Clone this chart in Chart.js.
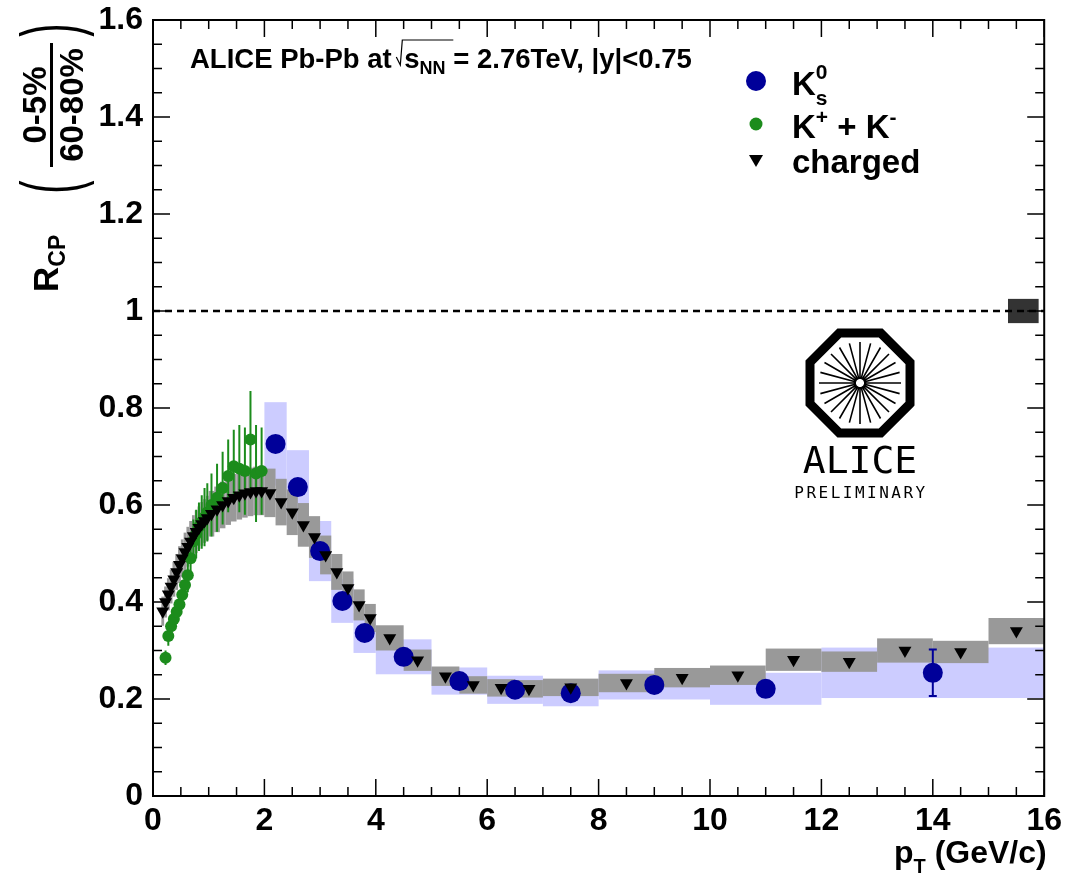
<!DOCTYPE html>
<html>
<head>
<meta charset="utf-8">
<title>ALICE Pb-Pb RCP kaons</title>
<script src="https://cdn.jsdelivr.net/npm/chart.js@4/dist/chart.umd.min.js"></script>
<style>
	html, body { margin: 0; padding: 0; background: #fff; }
	#rcpChart { display: block; }
</style>
</head>
<body>
<canvas id="rcpChart" width="1068" height="879"></canvas>
<script>
// K0s (blue circles)
var k0sPt   = [2.2, 2.6, 3.0, 3.4, 3.8, 4.5, 5.5, 6.5, 7.5, 9.0, 11.0, 14.0];
var k0sR    = [0.726, 0.637, 0.505, 0.402, 0.336, 0.287, 0.237, 0.219, 0.212, 0.229, 0.221, 0.254];
var k0sStat = [0.008, 0.008, 0.008, 0.008, 0.008, 0.008, 0.008, 0.008, 0.008, 0.01, 0.014, 0.048];
var k0sSys  = [0.086, 0.076, 0.062, 0.045, 0.041, 0.036, 0.028, 0.029, 0.027, 0.03, 0.033, 0.052];
var k0sLo   = [2.0, 2.4, 2.8, 3.2, 3.6, 4.0, 5.0, 6.0, 7.0, 8.0, 10.0, 12.0];
var k0sHi   = [2.4, 2.8, 3.2, 3.6, 4.0, 5.0, 6.0, 7.0, 8.0, 10.0, 12.0, 16.0];

// K+ + K- (green circles)
var kchPt   = [0.225, 0.275, 0.325, 0.375, 0.425, 0.475, 0.525, 0.575, 0.625, 0.675, 0.725, 0.775, 0.825,
               0.875, 0.925, 0.975, 1.05, 1.15, 1.25, 1.35, 1.45, 1.55, 1.65, 1.75, 1.85, 1.95];
var kchR    = [0.285, 0.33, 0.35, 0.365, 0.38, 0.395, 0.415, 0.435, 0.455, 0.49, 0.525, 0.54, 0.555,
               0.565, 0.575, 0.585, 0.6, 0.615, 0.635, 0.66, 0.68, 0.675, 0.67, 0.735, 0.665, 0.67];
var kchStat = [0.015, 0.02, 0.02, 0.02, 0.025, 0.025, 0.03, 0.03, 0.035, 0.04, 0.045, 0.05, 0.05,
               0.055, 0.06, 0.06, 0.065, 0.07, 0.075, 0.075, 0.075, 0.09, 0.09, 0.1, 0.1, 0.09];

// charged hadrons (black triangles)
var chPt  = [0.175, 0.225, 0.275, 0.325, 0.375, 0.425, 0.475, 0.525, 0.575, 0.625, 0.675, 0.725, 0.775,
             0.825, 0.875, 0.925, 0.975, 1.05, 1.15, 1.25, 1.35, 1.45, 1.55, 1.65, 1.75, 1.85, 1.95,
             2.1, 2.3, 2.5, 2.7, 2.9, 3.1, 3.3, 3.5, 3.7, 3.9, 4.25, 4.75, 5.25, 5.75, 6.25, 6.75,
             7.5, 8.5, 9.5, 10.5, 11.5, 12.5, 13.5, 14.5, 15.5];
var chR   = [0.381, 0.4, 0.416, 0.432, 0.447, 0.462, 0.477, 0.49, 0.503, 0.514, 0.525, 0.536, 0.545,
             0.553, 0.561, 0.567, 0.573, 0.582, 0.591, 0.6, 0.608, 0.615, 0.62, 0.624, 0.627, 0.629, 0.629,
             0.625, 0.606, 0.585, 0.559, 0.534, 0.497, 0.462, 0.429, 0.394, 0.367, 0.326, 0.28, 0.247, 0.229, 0.223, 0.221,
             0.224, 0.233, 0.244, 0.249, 0.281, 0.277, 0.3, 0.297, 0.34];
var chSys = [0.03, 0.032, 0.033, 0.035, 0.036, 0.037, 0.038, 0.039, 0.04, 0.041, 0.042, 0.043, 0.044,
             0.044, 0.045, 0.045, 0.046, 0.047, 0.047, 0.048, 0.049, 0.049, 0.05, 0.05, 0.05, 0.05, 0.05,
             0.05, 0.048, 0.047, 0.045, 0.043, 0.04, 0.037, 0.034, 0.032, 0.029, 0.026, 0.022, 0.02, 0.018, 0.018, 0.018,
             0.018, 0.019, 0.02, 0.02, 0.023, 0.021, 0.025, 0.023, 0.027];
// bin edges of the charged spectrum (n+1 values)
var chEdges = [0.15, 0.2, 0.25, 0.3, 0.35, 0.4, 0.45, 0.5, 0.55, 0.6, 0.65, 0.7, 0.75, 0.8, 0.85, 0.9, 0.95, 1.0,
               1.1, 1.2, 1.3, 1.4, 1.5, 1.6, 1.7, 1.8, 1.9, 2.0,
               2.2, 2.4, 2.6, 2.8, 3.0, 3.2, 3.4, 3.6, 3.8, 4.0, 4.5, 5.0, 5.5, 6.0, 6.5, 7.0,
               8, 9, 10, 11, 12, 13, 14, 15, 16];

// normalisation uncertainty box at unity
var normBox = { lo: 15.35, hi: 15.9, y: 1.0, err: 0.025 };

// axes
var xTicks = [0, 2, 4, 6, 8, 10, 12, 14, 16];
var yTicks = [0, 0.2, 0.4, 0.6, 0.8, 1, 1.2, 1.4, 1.6];

var FONT = '"Liberation Sans", Arial, Helvetica, sans-serif';
var BLUE = '#000099', GREEN = '#1c8c1c';

var RCP = (function() {

	function _points(xs, ys) {
		var out = [];
		for (var i = 0; i < xs.length; i++) { out.push({ x: xs[i], y: ys[i] }); }
		return out;
	}

	// systematic boxes + statistical bars, below the markers
	var boxesPlugin = {
		id: 'rcpBoxes',
		beforeDatasetsDraw: function(chart) {
			var ctx = chart.ctx, xs = chart.scales.x, ys = chart.scales.y, a = chart.chartArea;
			var i, x0, x1, y0, y1;
			ctx.save();
			ctx.beginPath();
			ctx.rect(a.left, a.top, a.right - a.left, a.bottom - a.top);
			ctx.clip();
			// K0s systematics
			ctx.fillStyle = '#ccccff';
			for (i = 0; i < k0sPt.length; i++) {
				x0 = xs.getPixelForValue(k0sLo[i]); x1 = xs.getPixelForValue(k0sHi[i]);
				y0 = ys.getPixelForValue(k0sR[i] + k0sSys[i]); y1 = ys.getPixelForValue(k0sR[i] - k0sSys[i]);
				ctx.fillRect(x0, y0, x1 - x0, y1 - y0);
			}
			// charged systematics
			ctx.fillStyle = '#999999';
			for (i = 0; i < chPt.length; i++) {
				x0 = xs.getPixelForValue(chEdges[i]); x1 = xs.getPixelForValue(chEdges[i + 1]);
				y0 = ys.getPixelForValue(chR[i] + chSys[i]); y1 = ys.getPixelForValue(chR[i] - chSys[i]);
				ctx.fillRect(x0, y0, x1 - x0, y1 - y0);
			}
			// normalisation
			ctx.fillStyle = '#333333';
			x0 = xs.getPixelForValue(normBox.lo); x1 = xs.getPixelForValue(normBox.hi);
			y0 = ys.getPixelForValue(normBox.y + normBox.err); y1 = ys.getPixelForValue(normBox.y - normBox.err);
			ctx.fillRect(x0, y0, x1 - x0, y1 - y0);
			// K+- stat bars
			ctx.strokeStyle = GREEN;
			ctx.lineWidth = 2;
			ctx.beginPath();
			for (i = 0; i < kchPt.length; i++) {
				x0 = xs.getPixelForValue(kchPt[i]);
				ctx.moveTo(x0, ys.getPixelForValue(kchR[i] + kchStat[i]));
				ctx.lineTo(x0, ys.getPixelForValue(kchR[i] - kchStat[i]));
			}
			ctx.stroke();
			// K0s stat bars with small caps
			ctx.strokeStyle = BLUE;
			ctx.beginPath();
			for (i = 0; i < k0sPt.length; i++) {
				x0 = xs.getPixelForValue(k0sPt[i]);
				y0 = ys.getPixelForValue(k0sR[i] + k0sStat[i]); y1 = ys.getPixelForValue(k0sR[i] - k0sStat[i]);
				ctx.moveTo(x0, y0); ctx.lineTo(x0, y1);
				ctx.moveTo(x0 - 4, y0); ctx.lineTo(x0 + 4, y0);
				ctx.moveTo(x0 - 4, y1); ctx.lineTo(x0 + 4, y1);
			}
			ctx.stroke();
			ctx.restore();
		}
	};

	// text helper: parts with size / vertical shift, "back" restarts at previous part's x
	function _rich(ctx, x, y, parts) {
		var cx = x, lastStart = x, maxX = x;
		for (var i = 0; i < parts.length; i++) {
			var p = parts[i];
			ctx.font = (p.weight || 'bold') + ' ' + p.size + 'px ' + (p.family || FONT);
			if (p.back) { cx = lastStart; }
			lastStart = cx;
			ctx.fillText(p.text, cx, y + (p.dy || 0));
			cx += ctx.measureText(p.text).width;
			if (p.back) { cx = Math.max(cx, maxX); }
			maxX = Math.max(maxX, cx);
		}
		return cx;
	}

	// ROOT style frame with inward ticks, titles, legend, logo
	var decorPlugin = {
		id: 'rcpDecor',
		afterDraw: function(chart) {
			var ctx = chart.ctx, xs = chart.scales.x, ys = chart.scales.y, a = chart.chartArea;
			var i, v, p, len;
			ctx.save();
			ctx.strokeStyle = '#000';
			ctx.lineWidth = 2;
			ctx.strokeRect(a.left, a.top, a.right - a.left, a.bottom - a.top);
			ctx.lineWidth = 1.5;
			ctx.beginPath();
			for (i = 0; i <= 32; i++) {
				v = i * 0.5; p = xs.getPixelForValue(v); len = (i % 4 === 0) ? 17 : 9;
				ctx.moveTo(p, a.bottom); ctx.lineTo(p, a.bottom - len);
				ctx.moveTo(p, a.top); ctx.lineTo(p, a.top + len);
			}
			for (i = 0; i <= 32; i++) {
				v = i * 0.05; p = ys.getPixelForValue(v); len = (i % 4 === 0) ? 17 : 9;
				ctx.moveTo(a.left, p); ctx.lineTo(a.left + len, p);
				ctx.moveTo(a.right, p); ctx.lineTo(a.right - len, p);
			}
			ctx.stroke();

			ctx.fillStyle = '#000';
			ctx.textBaseline = 'alphabetic';
			ctx.textAlign = 'left';

			// header
			var hx = _rich(ctx, 190, 68, [{ text: 'ALICE Pb-Pb at ', size: 27.5 }]);
			ctx.lineWidth = 1.2;
			ctx.beginPath();
			ctx.moveTo(hx - 3, 57); ctx.lineTo(hx + 1, 65); ctx.lineTo(hx + 3, 40); ctx.lineTo(hx + 54, 40);
			ctx.stroke();
			_rich(ctx, hx + 5, 68, [
				{ text: 's', size: 27.5 },
				{ text: 'NN', size: 18, dy: 6 },
				{ text: ' = 2.76TeV, |y|<0.75', size: 27.5 }
			]);

			// legend
			ctx.fillStyle = BLUE;
			ctx.beginPath(); ctx.arc(756, 81, 10, 0, Math.PI * 2); ctx.fill();
			ctx.fillStyle = GREEN;
			ctx.beginPath(); ctx.arc(756, 124, 6.5, 0, Math.PI * 2); ctx.fill();
			ctx.fillStyle = '#000';
			ctx.beginPath(); ctx.moveTo(749, 155); ctx.lineTo(763, 155); ctx.lineTo(756, 167); ctx.closePath(); ctx.fill();
			_rich(ctx, 792, 95, [
				{ text: 'K', size: 33 },
				{ text: 's', size: 21, dy: 10 },
				{ text: '0', size: 21, dy: -16, back: true }
			]);
			_rich(ctx, 792, 138, [
				{ text: 'K', size: 33 },
				{ text: '+', size: 21, dy: -14 },
				{ text: ' + K', size: 33 },
				{ text: '-', size: 21, dy: -14 }
			]);
			_rich(ctx, 792, 173, [{ text: 'charged', size: 33 }]);

			// x title
			_rich(ctx, 894, 863, [
				{ text: 'p', size: 32 },
				{ text: 'T', size: 20, dy: 10 },
				{ text: ' (GeV/c)', size: 32 }
			]);

			// y title, rotated (u = -screenY, v = screenX)
			ctx.save();
			ctx.rotate(-Math.PI / 2);
			_rich(ctx, -292, 58, [
				{ text: 'R', size: 35 },
				{ text: 'CP', size: 23, dy: 7 }
			]);
			ctx.textAlign = 'center';
			ctx.font = 'bold 33px ' + FONT;
			ctx.fillText('0-5%', -105, 46);
			ctx.fillText('60-80%', -105, 83);
			ctx.fillRect(-167, 50, 124, 3);
			ctx.save();
			ctx.scale(0.5, 1);
			ctx.font = '80px ' + FONT;
			ctx.fillText('(', -187 / 0.5, 77);
			ctx.fillText(')', -30 / 0.5, 77);
			ctx.restore();
			ctx.restore();

			// ALICE preliminary logo
			_logo(ctx, 860, 383);
			ctx.restore();
		}
	};

	function _logo(ctx, cx, cy) {
		var i, ang, r = 50;
		ctx.save();
		ctx.strokeStyle = '#000';
		ctx.lineWidth = 9;
		ctx.lineJoin = 'miter';
		ctx.beginPath();
		for (i = 0; i < 8; i++) {
			ang = Math.PI / 8 + i * Math.PI / 4;
			var px = cx + r / Math.cos(Math.PI / 8) * Math.cos(ang);
			var py = cy + r / Math.cos(Math.PI / 8) * Math.sin(ang);
			if (i === 0) { ctx.moveTo(px, py); } else { ctx.lineTo(px, py); }
		}
		ctx.closePath();
		ctx.stroke();
		ctx.lineWidth = 1.6;
		ctx.beginPath();
		for (i = 0; i < 24; i++) {
			ang = i * Math.PI / 12;
			ctx.moveTo(cx + 4 * Math.cos(ang), cy + 4 * Math.sin(ang));
			ctx.lineTo(cx + 41 * Math.cos(ang), cy + 41 * Math.sin(ang));
		}
		ctx.stroke();
		ctx.fillStyle = '#000';
		ctx.textAlign = 'center';
		ctx.font = '38px "DejaVu Sans Mono", monospace';
		ctx.fillText('ALICE', cx, 473);
		ctx.font = '16px "DejaVu Sans Mono", monospace';
		if ('letterSpacing' in ctx) { ctx.letterSpacing = '2.5px'; }
		ctx.fillText('PRELIMINARY', cx + 1, 498);
		ctx.restore();
	}

	function init() {
		var ctx = document.getElementById('rcpChart');
		return new Chart(ctx, {
			type: 'scatter',
			data: {
				datasets: [
					{
						label: 'charged',
						data: _points(chPt, chR),
						pointStyle: 'triangle',
						rotation: 180,
						pointRadius: 7.5,
						backgroundColor: '#000',
						borderColor: '#000',
						borderWidth: 0,
						order: 0
					},
					{
						label: 'K+ + K-',
						data: _points(kchPt, kchR),
						pointStyle: 'circle',
						pointRadius: 6,
						backgroundColor: GREEN,
						borderColor: GREEN,
						borderWidth: 0,
						order: 1
					},
					{
						label: 'K0s',
						data: _points(k0sPt, k0sR),
						pointStyle: 'circle',
						pointRadius: 10,
						backgroundColor: BLUE,
						borderColor: BLUE,
						borderWidth: 0,
						order: 2
					},
					{
						label: 'unity',
						type: 'line',
						data: [{ x: xTicks[0], y: 1 }, { x: xTicks[xTicks.length - 1], y: 1 }],
						borderColor: '#000',
						borderWidth: 2.5,
						borderDash: [7, 5],
						pointRadius: 0,
						order: 3
					}
				]
			},
			options: {
				responsive: false,
				animation: false,
				events: [],
				layout: { padding: { top: 20, right: 20, left: 0, bottom: 0 } },
				plugins: { legend: { display: false }, tooltip: { enabled: false } },
				scales: {
					x: {
						type: 'linear',
						min: xTicks[0],
						max: xTicks[xTicks.length - 1],
						afterFit: function(scale) { scale.height = 83; },
						afterBuildTicks: function(scale) { scale.ticks = xTicks.map(function(v) { return { value: v }; }); },
						grid: { display: false, drawTicks: false },
						border: { display: false },
						ticks: { color: '#000', padding: 6, maxRotation: 0, font: { family: FONT, size: 32, weight: 'bold' } }
					},
					y: {
						type: 'linear',
						min: yTicks[0],
						max: yTicks[yTicks.length - 1],
						afterFit: function(scale) { scale.width = 153; },
						afterBuildTicks: function(scale) { scale.ticks = yTicks.map(function(v) { return { value: v }; }); },
						grid: { display: false, drawTicks: false },
						border: { display: false },
						ticks: {
							color: '#000',
							padding: 10,
							font: { family: FONT, size: 32, weight: 'bold', lineHeight: 0.5 },
							callback: function(v) { return String(Math.round(v * 10) / 10); }
						}
					}
				}
			},
			plugins: [boxesPlugin, decorPlugin]
		});
	}

	return {
		init: function() {
			return init();
		}
	};
})();

RCP.init();
</script>
</body>
</html>
